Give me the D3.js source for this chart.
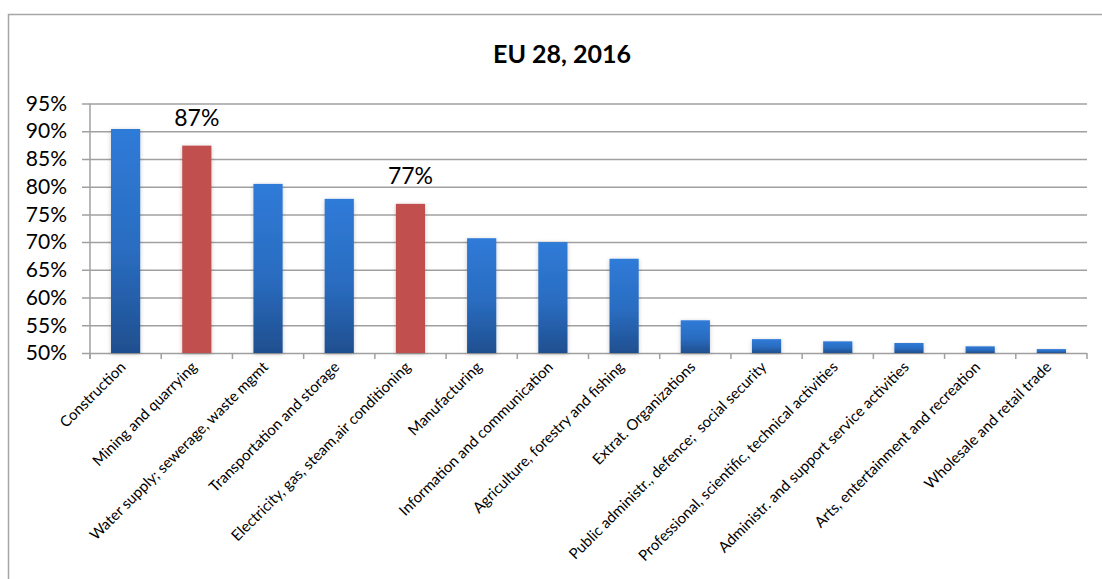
<!DOCTYPE html>
<html>
<head>
<meta charset="utf-8">
<script src="https://cdn.jsdelivr.net/npm/d3@7"></script>
<style>
  html, body { margin: 0; padding: 0; background: #fff; }
  svg { display: block; font-family: Lato, "Open Sans", sans-serif; }
</style>
</head>
<body>
<svg id="chart" width="1102" height="579"></svg>
<script>
// Share by sector, EU 28, 2016
const categories = [
  "Construction",
  "Mining and quarrying",
  "Water supply; sewerage, waste mgmt",
  "Transportation and storage",
  "Electricity, gas, steam,air conditioning",
  "Manufacturing",
  "Information and communication",
  "Agriculture, forestry and fishing",
  "Extrat. Organizations",
  "Public administr., defence;  social security",
  "Professional, scientific, technical activities",
  "Administr. and support service activities",
  "Arts, entertainment and recreation",
  "Wholesale and retail trade"
];
const values = [0.904, 0.874, 0.805, 0.778, 0.769, 0.707, 0.700, 0.670, 0.559, 0.525, 0.521, 0.518, 0.512, 0.507];
// Sectors that are highlighted and labelled with their value
const highlighted = ["Mining and quarrying", "Electricity, gas, steam,air conditioning"];
const yTicks = [0.50, 0.55, 0.60, 0.65, 0.70, 0.75, 0.80, 0.85, 0.90, 0.95];
const title = "EU 28, 2016";

const svg = d3.select("#chart");
const W = 1102, H = 579;
const x0 = 90, x1 = 1087, y0 = 353, y1 = 103.5;

const x = d3.scaleBand().domain(categories).range([x0, x1]).paddingInner(0.59).paddingOuter(0.295);
const y = d3.scaleLinear().domain([0.50, 0.95]).range([y0, y1]);
const fmt = d3.format(".0%");

// outer frame
svg.append("rect")
  .attr("x", 8.5).attr("y", 14.5).attr("width", W + 10).attr("height", H + 10)
  .attr("fill", "none").attr("stroke", "#a6a6a6").attr("stroke-width", 1.5);

// title
svg.append("text")
  .attr("x", 562).attr("y", 63)
  .attr("text-anchor", "middle")
  .attr("font-size", 25).attr("font-weight", "bold").attr("fill", "#000")
  .text(title);

const defs = svg.append("defs");
const grad = defs.append("linearGradient").attr("id", "blueGrad")
  .attr("x1", 0).attr("y1", 0).attr("x2", 0).attr("y2", 1);
grad.append("stop").attr("offset", "0%").attr("stop-color", "#2f7bd8");
grad.append("stop").attr("offset", "55%").attr("stop-color", "#2a6cc0");
grad.append("stop").attr("offset", "100%").attr("stop-color", "#1f4f8f");
const shadow = defs.append("filter").attr("id", "barShadow")
  .attr("x", "-30%").attr("y", "-10%").attr("width", "160%").attr("height", "120%");
shadow.append("feDropShadow").attr("dx", 0).attr("dy", 1).attr("stdDeviation", 2.2)
  .attr("flood-color", "#000").attr("flood-opacity", 0.22);

// y axis with gridlines
const yAxis = d3.axisLeft(y).tickValues(yTicks).tickFormat(fmt).tickSize(-(x1 - x0)).tickPadding(23);
const gy = svg.append("g").attr("transform", `translate(${x0},0)`).call(yAxis);
gy.select(".domain").remove();
gy.selectAll(".tick line").attr("stroke", "#a0a0a0").attr("stroke-width", 1.5).attr("x1", -8);
gy.selectAll(".tick text").attr("font-size", 21).attr("fill", "#000").attr("font-family", "Lato, sans-serif");
svg.append("line").attr("x1", x0).attr("x2", x0).attr("y1", y1).attr("y2", y0 + 6)
  .attr("stroke", "#a0a0a0").attr("stroke-width", 1.5);

// x axis ticks at band boundaries
const boundaries = categories.map(c => x(c) - x.step() * x.paddingInner() / 2).concat([x1]);
svg.append("g").selectAll("line").data(boundaries).join("line")
  .attr("x1", d => d).attr("x2", d => d).attr("y1", y0).attr("y2", y0 + 6)
  .attr("stroke", "#a0a0a0").attr("stroke-width", 1.5);

// bars
svg.append("g").selectAll("rect").data(categories).join("rect")
  .attr("x", c => x(c))
  .attr("width", x.bandwidth())
  .attr("y", (c, i) => y(values[i]))
  .attr("height", (c, i) => y0 - y(values[i]))
  .attr("fill", c => highlighted.includes(c) ? "#c0504d" : "url(#blueGrad)")
  .attr("filter", "url(#barShadow)");

// value labels on highlighted bars
svg.append("g").selectAll("text").data(categories.filter(c => highlighted.includes(c))).join("text")
  .attr("x", c => x(c) + x.bandwidth() / 2)
  .attr("y", c => y(values[categories.indexOf(c)]) - 20)
  .attr("text-anchor", "middle").attr("font-size", 23).attr("fill", "#000")
  .text(c => fmt(values[categories.indexOf(c)]));

// rotated category labels
svg.append("g").selectAll("text").data(categories).join("text")
  .attr("transform", c => `translate(${x(c) + x.bandwidth() / 2 + 1},${y0 + 15}) rotate(-45)`)
  .attr("text-anchor", "end").attr("font-size", 15).attr("fill", "#000")
  .style("white-space", "pre")
  .text(c => c);
</script>
</body>
</html>
